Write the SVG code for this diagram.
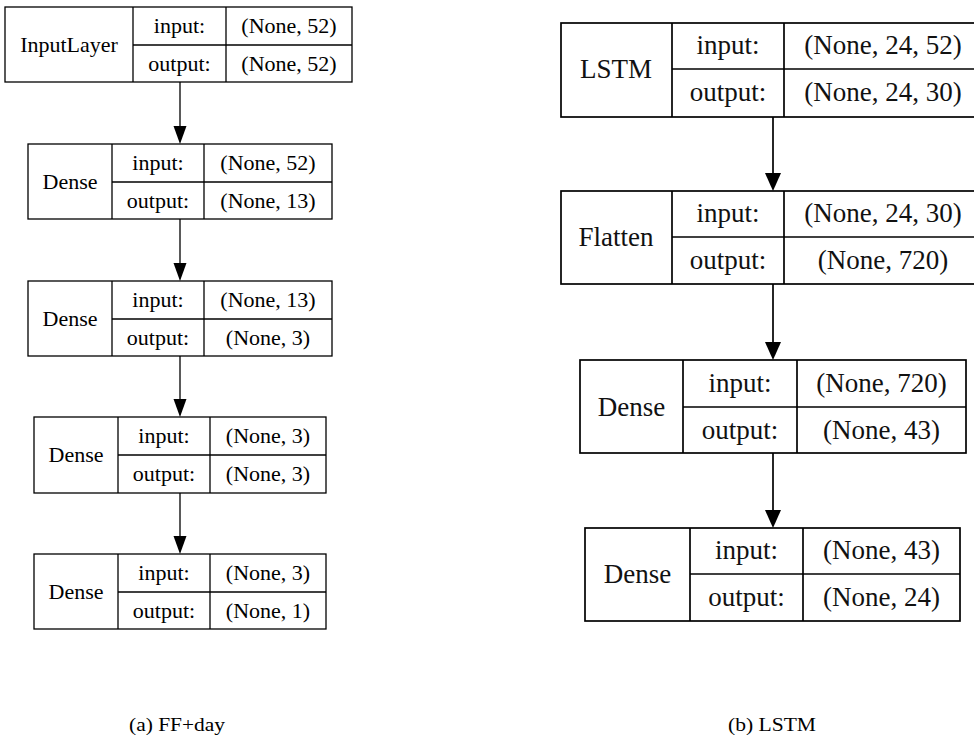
<svg xmlns="http://www.w3.org/2000/svg" width="974" height="736" viewBox="0 0 974 736">
<style>
.b{fill:#fff;stroke:#000;stroke-width:1.3}
.B{fill:#fff;stroke:#000;stroke-width:1.7}
.l{stroke:#000;stroke-width:1.3;fill:none}
.L{stroke:#000;stroke-width:1.7;fill:none}
.t{font-family:"Liberation Serif","Times New Roman",serif;font-size:22px;fill:#000;text-anchor:middle}
.T{font-family:"Liberation Serif","Times New Roman",serif;font-size:27px;fill:#111;text-anchor:middle}
.c{font-family:"Liberation Serif","Times New Roman",serif;font-size:18px;fill:#000;text-anchor:middle}
</style>
<rect width="974" height="736" fill="#fff"/>
<g id="connectors">
<line class="l" x1="180" y1="82" x2="180" y2="127"/><polygon points="173.5,126 186.5,126 180,144"/>
<line class="l" x1="180" y1="219" x2="180" y2="264"/><polygon points="173.5,263 186.5,263 180,281"/>
<line class="l" x1="180" y1="356" x2="180" y2="400"/><polygon points="173.5,399 186.5,399 180,417"/>
<line class="l" x1="180" y1="493" x2="180" y2="537"/><polygon points="173.5,536 186.5,536 180,554"/>
<line class="L" x1="773" y1="117" x2="773" y2="174"/><polygon points="765,173 781,173 773,191"/>
<line class="L" x1="773" y1="284" x2="773" y2="343"/><polygon points="765,342 781,342 773,360"/>
<line class="L" x1="773" y1="453" x2="773" y2="511"/><polygon points="765,510 781,510 773,528"/>
</g>
<g id="n1">
<rect class="b" x="5" y="7" width="347" height="75"/>
<line class="l" x1="133" y1="7" x2="133" y2="82"/><line class="l" x1="226" y1="7" x2="226" y2="82"/><line class="l" x1="133" y1="45" x2="352" y2="45"/>
<text class="t" x="69" y="52">InputLayer</text><text class="t" x="179.5" y="33">input:</text><text class="t" x="179.5" y="71">output:</text>
<text class="t" x="289" y="33">(None, 52)</text><text class="t" x="289" y="71">(None, 52)</text>
</g>
<g id="n2">
<rect class="b" x="28" y="144" width="304" height="75"/>
<line class="l" x1="112" y1="144" x2="112" y2="219"/><line class="l" x1="204" y1="144" x2="204" y2="219"/><line class="l" x1="112" y1="182" x2="332" y2="182"/>
<text class="t" x="70" y="189">Dense</text><text class="t" x="158" y="170">input:</text><text class="t" x="158" y="208">output:</text>
<text class="t" x="268" y="170">(None, 52)</text><text class="t" x="268" y="208">(None, 13)</text>
</g>
<g id="n3">
<rect class="b" x="28" y="281" width="304" height="75"/>
<line class="l" x1="112" y1="281" x2="112" y2="356"/><line class="l" x1="204" y1="281" x2="204" y2="356"/><line class="l" x1="112" y1="319" x2="332" y2="319"/>
<text class="t" x="70" y="326">Dense</text><text class="t" x="158" y="307">input:</text><text class="t" x="158" y="345">output:</text>
<text class="t" x="268" y="307">(None, 13)</text><text class="t" x="268" y="345">(None, 3)</text>
</g>
<g id="n4">
<rect class="b" x="34" y="417" width="292" height="76"/>
<line class="l" x1="118" y1="417" x2="118" y2="493"/><line class="l" x1="210" y1="417" x2="210" y2="493"/><line class="l" x1="118" y1="455" x2="326" y2="455"/>
<text class="t" x="76" y="462">Dense</text><text class="t" x="164" y="443">input:</text><text class="t" x="164" y="481">output:</text>
<text class="t" x="268" y="443">(None, 3)</text><text class="t" x="268" y="481">(None, 3)</text>
</g>
<g id="n5">
<rect class="b" x="34" y="554" width="292" height="75"/>
<line class="l" x1="118" y1="554" x2="118" y2="629"/><line class="l" x1="210" y1="554" x2="210" y2="629"/><line class="l" x1="118" y1="592" x2="326" y2="592"/>
<text class="t" x="76" y="599">Dense</text><text class="t" x="164" y="580">input:</text><text class="t" x="164" y="618">output:</text>
<text class="t" x="268" y="580">(None, 3)</text><text class="t" x="268" y="618">(None, 1)</text>
</g>
<g id="m1">
<rect class="B" x="561" y="23" width="421" height="94"/>
<line class="L" x1="672" y1="23" x2="672" y2="117"/><line class="L" x1="784" y1="23" x2="784" y2="117"/><line class="L" x1="672" y1="69" x2="982" y2="69"/>
<text class="T" x="616" y="78">LSTM</text><text class="T" x="728" y="54">input:</text><text class="T" x="728" y="101">output:</text>
<text class="T" x="883" y="54">(None, 24, 52)</text><text class="T" x="883" y="101">(None, 24, 30)</text>
</g>
<g id="m2">
<rect class="B" x="561" y="191" width="421" height="93"/>
<line class="L" x1="672" y1="191" x2="672" y2="284"/><line class="L" x1="784" y1="191" x2="784" y2="284"/><line class="L" x1="672" y1="237" x2="982" y2="237"/>
<text class="T" x="616" y="246">Flatten</text><text class="T" x="728" y="222">input:</text><text class="T" x="728" y="269">output:</text>
<text class="T" x="883" y="222">(None, 24, 30)</text><text class="T" x="883" y="269">(None, 720)</text>
</g>
<g id="m3">
<rect class="B" x="580" y="360" width="386" height="93"/>
<line class="L" x1="683" y1="360" x2="683" y2="453"/><line class="L" x1="797" y1="360" x2="797" y2="453"/><line class="L" x1="683" y1="407" x2="966" y2="407"/>
<text class="T" x="631.5" y="416">Dense</text><text class="T" x="740" y="392">input:</text><text class="T" x="740" y="439">output:</text>
<text class="T" x="881.5" y="392">(None, 720)</text><text class="T" x="881.5" y="439">(None, 43)</text>
</g>
<g id="m4">
<rect class="B" x="585" y="528" width="375" height="93"/>
<line class="L" x1="690" y1="528" x2="690" y2="621"/><line class="L" x1="803" y1="528" x2="803" y2="621"/><line class="L" x1="690" y1="574" x2="960" y2="574"/>
<text class="T" x="637.5" y="583">Dense</text><text class="T" x="746.5" y="559">input:</text><text class="T" x="746.5" y="606">output:</text>
<text class="T" x="881.5" y="559">(None, 43)</text><text class="T" x="881.5" y="606">(None, 24)</text>
</g>
<text class="c" x="177" y="731" textLength="96" lengthAdjust="spacingAndGlyphs">(a) FF+day</text>
<text class="c" x="772" y="731" textLength="88" lengthAdjust="spacingAndGlyphs">(b) LSTM</text>
</svg>
